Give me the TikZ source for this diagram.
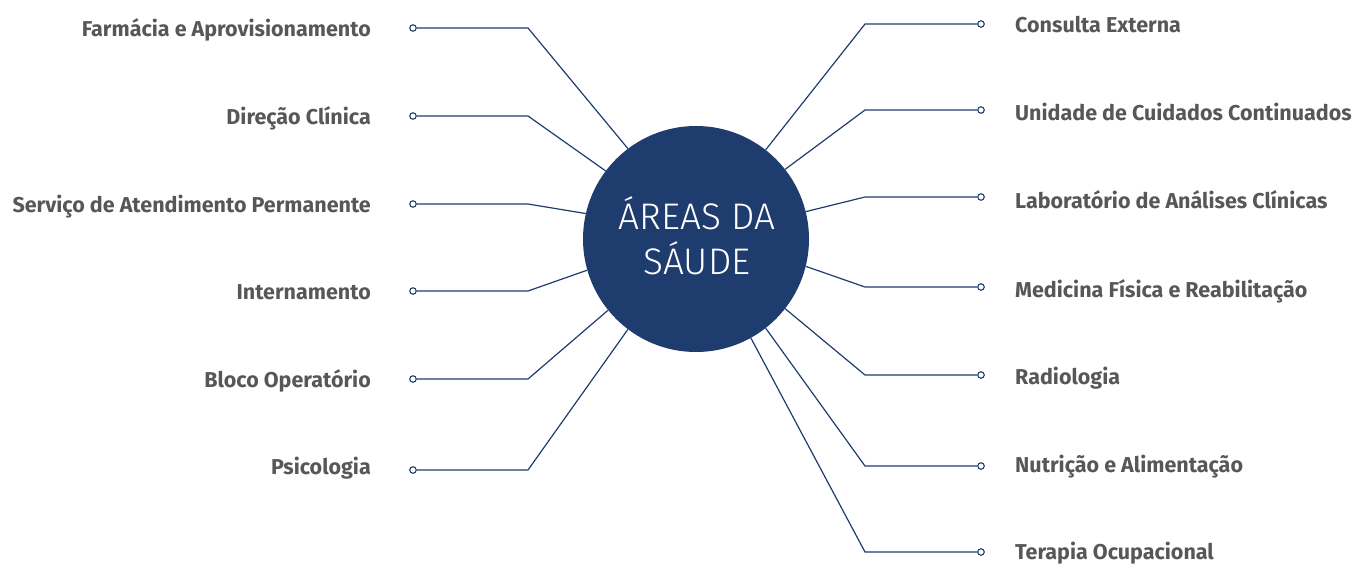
\documentclass[tikz,border=0pt]{standalone}
\usepackage{fontspec}
\setmainfont{Fira Sans}
\newfontfamily\lightfont{Fira Sans Light}
\definecolor{navy}{HTML}{1F3C6E}
\definecolor{labelgray}{HTML}{575757}
\begin{document}
\begin{tikzpicture}[x=1pt,y=-1pt,
  dot/.style={circle,draw=navy,fill=white,line width=1.1pt,inner sep=0pt,minimum size=6.5pt},
  link/.style={draw=navy,line width=1.2pt},
  lbl/.style={font=\fontsize{21.5}{25}\selectfont\bfseries,text=labelgray,inner sep=0pt},
  hub/.style={circle,fill=navy,minimum size=226pt,inner sep=0pt,text=white,align=center,
     font=\lightfont\fontsize{37}{45}\selectfont}]
\useasboundingbox (0,0) rectangle (1364,565);
\node[hub] (c) at (696,239) {};
\node[text=white,align=center,font=\lightfont\fontsize{37}{45}\selectfont,inner sep=0pt] (ct) at (697,236) {ÁREAS DA\\SÁUDE};
% left side
\node[dot] (d1) at (413,28) {};
\node[dot] (d2) at (413,116) {};
\node[dot] (d3) at (413,204) {};
\node[dot] (d4) at (413,291) {};
\node[dot] (d5) at (413,379) {};
\node[dot] (d6) at (413,470) {};
\coordinate (b1) at (528,28);
\coordinate (b2) at (528,116);
\coordinate (b3) at (528,204);
\coordinate (b4) at (528,291);
\coordinate (b5) at (528,379);
\coordinate (b6) at (528,470);
\node[lbl,anchor=base east] (l1) at (371,36) {Farmácia e Aprovisionamento};
\node[lbl,anchor=base east] (l2) at (371,124) {Direção Clínica};
\node[lbl,anchor=base east] (l3) at (371,212) {Serviço de Atendimento Permanente};
\node[lbl,anchor=base east] (l4) at (371,299) {Internamento};
\node[lbl,anchor=base east] (l5) at (371,387) {Bloco Operatório};
\node[lbl,anchor=base east] (l6) at (371,474) {Psicologia};
\draw[link] (d1) -- (b1) -- (c.127.3);
\draw[link] (d2) -- (b2) -- (c.143.1);
\draw[link] (d3) -- (b3) -- (c.167.1);
\draw[link] (d4) -- (b4) -- (c.196.3);
\draw[link] (d5) -- (b5) -- (c.219);
\draw[link] (d6) -- (b6) -- (c.233.7);
% right side
\node[dot] (e1) at (981,24) {};
\node[dot] (e2) at (981,110) {};
\node[dot] (e3) at (981,197) {};
\node[dot] (e4) at (981,287) {};
\node[dot] (e5) at (981,375) {};
\node[dot] (e6) at (981,466) {};
\node[dot] (e7) at (981,552) {};
\coordinate (f1) at (865,24);
\coordinate (f2) at (865,110);
\coordinate (f3) at (865,197);
\coordinate (f4) at (865,287);
\coordinate (f5) at (865,375);
\coordinate (f6) at (865,466);
\coordinate (f7) at (865,552);
\node[lbl,anchor=base west] (r1) at (1015,32) {Consulta Externa};
\node[lbl,anchor=base west] (r2) at (1015,120) {Unidade de Cuidados Continuados};
\node[lbl,anchor=base west] (r3) at (1015,208) {Laboratório de Análises Clínicas};
\node[lbl,anchor=base west] (r4) at (1015,297) {Medicina Física e Reabilitação};
\node[lbl,anchor=base west] (r5) at (1015,384) {Radiologia};
\node[lbl,anchor=base west] (r6) at (1015,472) {Nutrição e Alimentação};
\node[lbl,anchor=base west] (r7) at (1015,559) {Terapia Ocupacional};
\draw[link] (e1) -- (f1) -- (c.52);
\draw[link] (e2) -- (f2) -- (c.38.4);
\draw[link] (e3) -- (f3) -- (c.14.8);
\draw[link] (e4) -- (f4) -- (c.-14.8);
\draw[link] (e5) -- (f5) -- (c.-38.4);
\draw[link] (e6) -- (f6) -- (c.-52.7);
\draw[link] (e7) -- (f7) -- (c.-61.8);
\end{tikzpicture}
\end{document}
